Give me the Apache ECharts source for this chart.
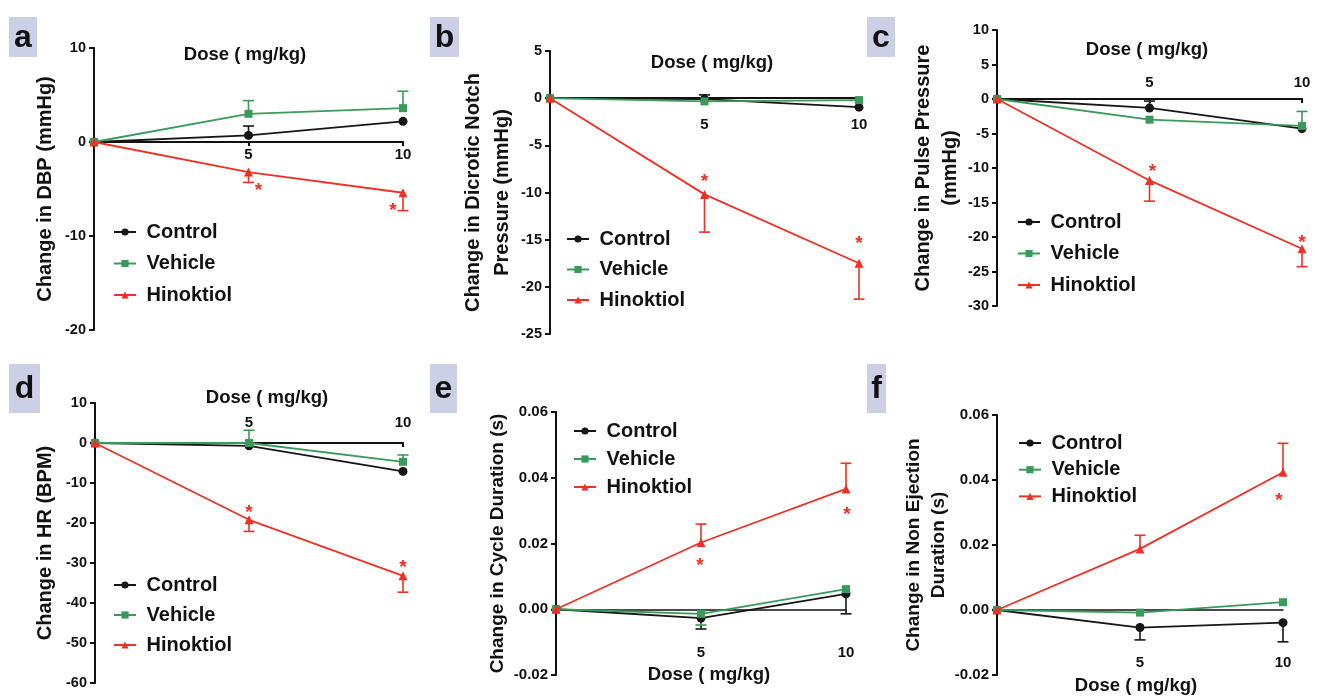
<!DOCTYPE html>
<html><head><meta charset="utf-8">
<script src="https://cdn.jsdelivr.net/npm/echarts@6/dist/echarts.min.js"></script>
<style>html,body{margin:0;padding:0;background:#fff}#c{width:1320px;height:697px}</style>
</head><body><div id="c"></div><script>
// ---------- DATA ----------
const doses = [0, 5, 10];
const seriesNames = ['Control', 'Vehicle', 'Hinoktiol'];
const xAxisTitle = 'Dose ( mg/kg)';

// a: Change in DBP (mmHg)
const dbpControl = [0, 0.7, 2.2];
const dbpControlErr = [null, 1.7, null];
const dbpVehicle = [0, 3.0, 3.6];
const dbpVehicleErr = [null, 4.4, 5.4];
const dbpHinoktiol = [0, -3.2, -5.4];
const dbpHinoktiolErr = [null, -4.3, -7.3];
const dbpStars = [null, -4.8, -6.9];

// b: Change in Dicrotic Notch Pressure (mmHg)
const dnpControl = [0, -0.1, -0.95];
const dnpControlErr = [null, 0.35, null];
const dnpVehicle = [0, -0.35, -0.2];
const dnpVehicleErr = [null, null, null];
const dnpHinoktiol = [0, -10.2, -17.5];
const dnpHinoktiolErr = [null, -14.2, -21.3];
const dnpStars = [null, -8.4, -15.0];

// c: Change in Pulse Pressure (mmHg)
const ppControl = [0, -1.3, -4.3];
const ppControlErr = [null, -0.3, null];
const ppVehicle = [0, -3.0, -3.9];
const ppVehicleErr = [null, null, -1.8];
const ppHinoktiol = [0, -11.8, -21.7];
const ppHinoktiolErr = [null, -14.8, -24.3];
const ppStars = [null, -9.9, -20.2];

// d: Change in HR (BPM)
const hrControl = [0, -0.7, -7.1];
const hrControlErr = [null, null, null];
const hrVehicle = [0, 0, -4.7];
const hrVehicleErr = [null, 3.2, -3.0];
const hrHinoktiol = [0, -19.2, -33.2];
const hrHinoktiolErr = [null, -22.1, -37.3];
const hrStars = [null, -16.5, -30.2];

// e: Change in Cycle Duration (s)
const cdControl = [0, -0.0027, 0.0047];
const cdControlErr = [null, -0.006, -0.0014];
const cdVehicle = [0, -0.0014, 0.0061];
const cdVehicleErr = [null, -0.0048, null];
const cdHinoktiol = [0, 0.0203, 0.0366];
const cdHinoktiolErr = [null, 0.0259, 0.0444];
const cdStars = [null, 0.0145, 0.030];

// f: Change in Non Ejection Duration (s)
const nedControl = [0, -0.0054, -0.0039];
const nedControlErr = [null, -0.0092, -0.0098];
const nedVehicle = [0, -0.0008, 0.0024];
const nedVehicleErr = [null, null, null];
const nedHinoktiol = [0, 0.0188, 0.0424];
const nedHinoktiolErr = [null, 0.023, 0.0513];
const nedStars = [null, null, 0.0349];

// ---------- LAYOUT / STYLE ----------
const FONT = '"Liberation Sans", Arial, Helvetica, sans-serif';
const COLORS = ['#161616', '#3a9a5c', '#ee3124'];
const SYMBOLS = ['circle', 'rect', 'triangle'];
const SYMSIZE = [9, 8, 9];

const panels = [
  { letter: 'a', box: [9, 17, 28, 40], yName: 'Change in DBP (mmHg)', yNameSize: 20, yLineH: 24, nameGap: 37,
    ymin: -20, ymax: 10, yint: 10, dec: 0, grid: { left: 94, top: 48, width: 309, height: 282 },
    vals: [dbpControl, dbpVehicle, dbpHinoktiol], errs: [dbpControlErr, dbpVehicleErr, dbpHinoktiolErr], stars: dbpStars,
    starDx: [0, 10, -10], xMode: 'below', xMargin: 5, title: [245, 55], legend: [113, 222, 11.5] },
  { letter: 'b', box: [430, 17, 29, 40], yName: 'Change in Dicrotic Notch\nPressure (mmHg)', yNameSize: 20, yLineH: 29, nameGap: 33,
    ymin: -25, ymax: 5, yint: 5, dec: 0, grid: { left: 550, top: 51, width: 309, height: 283 },
    vals: [dnpControl, dnpVehicle, dnpHinoktiol], errs: [dnpControlErr, dnpVehicleErr, dnpHinoktiolErr], stars: dnpStars,
    starDx: [0, 0, 0], xMode: 'below', xMargin: 19, title: [712, 63], legend: [566, 229, 10.5] },
  { letter: 'c', box: [867, 17, 28, 40], yName: 'Change in Pulse Pressure\n(mmHg)', yNameSize: 20, yLineH: 27, nameGap: 33,
    ymin: -30, ymax: 10, yint: 5, dec: 0, grid: { left: 997, top: 30, width: 305, height: 276 },
    vals: [ppControl, ppVehicle, ppHinoktiol], errs: [ppControlErr, ppVehicleErr, ppHinoktiolErr], stars: ppStars,
    starDx: [0, 3, 0], xMode: 'above', xMargin: 9, title: [1147, 50], legend: [1017, 212, 11.5] },
  { letter: 'd', box: [9, 364, 31, 49], yName: 'Change in HR (BPM)', yNameSize: 20, yLineH: 24, nameGap: 38,
    ymin: -60, ymax: 10, yint: 10, dec: 0, grid: { left: 95, top: 403, width: 308, height: 280 },
    vals: [hrControl, hrVehicle, hrHinoktiol], errs: [hrControlErr, hrVehicleErr, hrHinoktiolErr], stars: hrStars,
    starDx: [0, 0, 0], xMode: 'above', xMargin: 13, title: [267, 398], legend: [113, 575, 10] },
  { letter: 'e', box: [430, 364, 27, 49], yName: 'Change in Cycle Duration (s)', yNameSize: 19, yLineH: 24, nameGap: 45,
    ymin: -0.02, ymax: 0.06, yint: 0.02, dec: 2, grid: { left: 556, top: 412, width: 290, height: 263 },
    vals: [cdControl, cdVehicle, cdHinoktiol], errs: [cdControlErr, cdVehicleErr, cdHinoktiolErr], stars: cdStars,
    starDx: [0, -1, 1], xMode: 'bottom', xMargin: 15, title: [709, 675], legend: [573, 421, 8] },
  { letter: 'f', box: [867, 364, 19, 49], yName: 'Change in Non Ejection\nDuration (s)', yNameSize: 19, yLineH: 25, nameGap: 44,
    ymin: -0.02, ymax: 0.06, yint: 0.02, dec: 2, grid: { left: 997, top: 415, width: 286, height: 260 },
    vals: [nedControl, nedVehicle, nedHinoktiol], errs: [nedControlErr, nedVehicleErr, nedHinoktiolErr], stars: nedStars,
    starDx: [0, 0, -4], xMode: 'bottom', xMargin: 5, title: [1136, 686], legend: [1018, 433, 6.7] }
];

const grid = [], xAxis = [], yAxis = [], series = [], legend = [], title = [], graphic = [];
const xLabelFmt = v => (v > 0 && doses.indexOf(v) >= 0) ? String(v) : '';
const tickLabelStyle = (size) => ({ fontSize: size, fontWeight: 'bold', color: '#111', fontFamily: FONT });

panels.forEach((p, i) => {
  grid.push(Object.assign({}, p.grid));
  const onLine = p.xMode !== 'bottom';
  const xi = xAxis.length;
  // distance from the grid bottom up to the zero line, derived from the y range
  const zeroOffset = -p.grid.height * (0 - p.ymin) / (p.ymax - p.ymin);
  xAxis.push({
    type: 'value', gridIndex: i, min: 0, max: 10, interval: 5, position: 'bottom',
    offset: zeroOffset,
    axisLine: { show: true, onZero: false, lineStyle: { color: '#111', width: onLine ? 2 : 1.5 } },
    axisTick: { show: onLine, length: 4, inside: false, lineStyle: { color: '#111', width: 2 } },
    axisLabel: Object.assign({ show: onLine, inside: p.xMode === 'above', margin: p.xMargin, formatter: xLabelFmt }, tickLabelStyle(15)),
    splitLine: { show: false }
  });
  if (!onLine) {
    xAxis.push({
      type: 'value', gridIndex: i, min: 0, max: 10, interval: 5, position: 'bottom',
      axisLine: { show: false, onZero: false }, axisTick: { show: false },
      axisLabel: Object.assign({ show: true, inside: true, margin: p.xMargin, formatter: xLabelFmt }, tickLabelStyle(15)),
      splitLine: { show: false }
    });
  }
  yAxis.push({
    type: 'value', gridIndex: i, min: p.ymin, max: p.ymax, interval: p.yint,
    axisLine: { show: true, onZero: false, lineStyle: { color: '#111', width: 2 } },
    axisTick: { show: true, length: 5, lineStyle: { color: '#111', width: 2 } },
    axisLabel: Object.assign({ margin: 8, formatter: v => v.toFixed(p.dec) }, tickLabelStyle(p.dec ? 15 : 14.5)),
    splitLine: { show: false },
    name: p.yName, nameLocation: 'middle', nameGap: p.nameGap,
    nameTextStyle: { fontSize: p.yNameSize, fontWeight: 'bold', color: '#111', lineHeight: p.yLineH, fontFamily: FONT }
  });

  // error bars
  p.vals.forEach((vals, s) => {
    const errData = [];
    doses.forEach((d, k) => { if (p.errs[s][k] != null) errData.push([d, vals[k], p.errs[s][k]]); });
    if (errData.length) series.push({
      type: 'custom', name: 'err-' + p.letter + s, xAxisIndex: xi, yAxisIndex: i, z: 2, silent: true,
      encode: { x: 0, y: 1 }, data: errData,
      renderItem: (params, api) => {
        const a = api.coord([api.value(0), api.value(1)]);
        const b = api.coord([api.value(0), api.value(2)]);
        const st = { stroke: COLORS[s], lineWidth: 1.6 };
        return { type: 'group', children: [
          { type: 'line', shape: { x1: a[0], y1: a[1], x2: b[0], y2: b[1] }, style: st },
          { type: 'line', shape: { x1: b[0] - 5.5, y1: b[1], x2: b[0] + 5.5, y2: b[1] }, style: st }
        ] };
      }
    });
  });
  // lines
  p.vals.forEach((vals, s) => {
    series.push({
      type: 'line', name: seriesNames[s], xAxisIndex: xi, yAxisIndex: i, z: 3 + s,
      data: doses.map((d, k) => [d, vals[k]]),
      symbol: SYMBOLS[s], symbolSize: SYMSIZE[s], showAllSymbol: true,
      itemStyle: { color: COLORS[s] }, lineStyle: { color: COLORS[s], width: 1.8 }
    });
  });
  // significance asterisks
  const starData = [];
  doses.forEach((d, k) => { if (p.stars[k] != null) starData.push([d, p.stars[k], k]); });
  series.push({
    type: 'custom', name: 'star-' + p.letter, xAxisIndex: xi, yAxisIndex: i, z: 10, silent: true,
    encode: { x: 0, y: 1 }, data: starData,
    renderItem: (params, api) => {
      const c = api.coord([api.value(0), api.value(1)]);
      const k = api.value(2);
      return { type: 'text', x: c[0] + p.starDx[k], y: c[1] + 4,
        style: { text: '*', fill: COLORS[2], font: 'bold 19px ' + FONT, align: 'center', verticalAlign: 'middle',
          textAlign: 'center', textVerticalAlign: 'middle' } };
    }
  });

  legend.push({
    data: seriesNames, orient: 'vertical', left: p.legend[0], top: p.legend[1], itemGap: p.legend[2],
    itemWidth: 22, itemHeight: 9, selectedMode: false, formatter: ' {name}', padding: 0,
    textStyle: { fontSize: 20, fontWeight: 'bold', color: '#111', fontFamily: FONT, lineHeight: 20 }
  });
  title.push({
    text: xAxisTitle, left: p.title[0], top: p.title[1] - 11, textAlign: 'center', padding: 0,
    textStyle: { fontSize: 18.5, fontWeight: 'bold', color: '#111', fontFamily: FONT, lineHeight: 22 }
  });
  const bx = p.box;
  graphic.push({ type: 'rect', left: bx[0], top: bx[1], shape: { width: bx[2], height: bx[3] }, style: { fill: '#ccd0e6' }, z: 0 });
  graphic.push({ type: 'text', x: bx[0] + bx[2] / 2, y: bx[1] + bx[3] / 2 + 1,
    style: { text: p.letter, fill: '#111', font: 'bold 32px ' + FONT, align: 'center', verticalAlign: 'middle',
      textAlign: 'center', textVerticalAlign: 'middle' }, z: 1 });
});

const chart = echarts.init(document.getElementById('c'), null, { renderer: 'canvas' });
chart.setOption({
  backgroundColor: '#ffffff', animation: false,
  grid, xAxis, yAxis, series, legend, title, graphic
});
</script></body></html>
